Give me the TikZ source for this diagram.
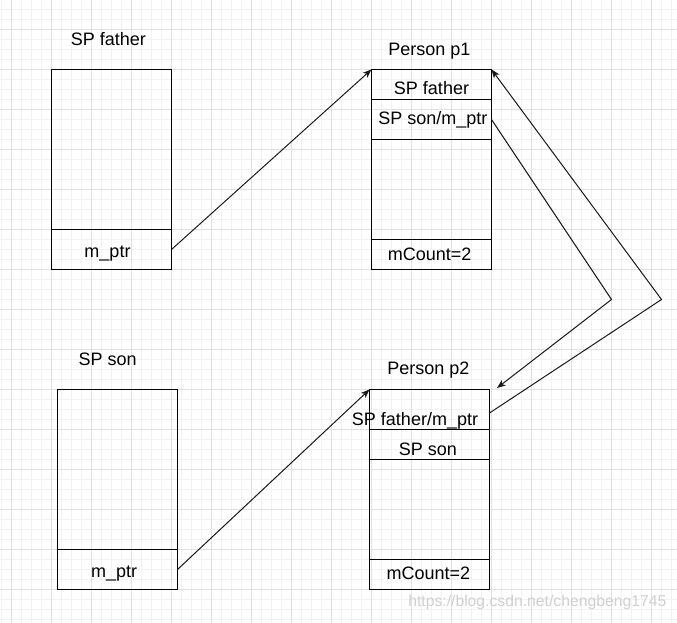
\documentclass[tikz,border=0pt]{standalone}
\usepackage{fontspec}
\setmainfont{Liberation Sans}
\usetikzlibrary{arrows.meta,calc}
\definecolor{gridmajor}{RGB}{224,224,224}
\definecolor{gridminor}{RGB}{242,242,242}
\definecolor{wmark}{RGB}{208,208,208}
\tikzset{
  cell/.style={draw=black,line width=0.8pt,rectangle,inner sep=0pt,outer sep=0pt,minimum width=90pt},
  lbl/.style={inner sep=0pt,anchor=base,font=\fontsize{13.5}{16}\selectfont},
  arr/.style={draw=black!90,line width=0.75pt,-{Stealth[length=6.5pt,width=5pt,inset=1.8pt]}},
  minorline/.style={draw=gridminor,line width=0.75pt},
  majorline/.style={draw=gridmajor,line width=0.75pt}
}
\begin{document}
\begin{tikzpicture}[x=0.75pt,y=-0.75pt]
\useasboundingbox (0,0) rectangle (677,623);
\fill[white] (0,0) rectangle (677,623);
% grid
\foreach \x in {1.5,11.5,...,671.5} \draw[minorline] (\x,0) -- (\x,623);
\foreach \y in {9.5,19.5,...,619.5} \draw[minorline] (0,\y) -- (677,\y);
\foreach \x in {11.5,51.5,...,651.5} \draw[majorline] (\x,0) -- (\x,623);
\foreach \y in {29.5,69.5,...,589.5} \draw[majorline] (0,\y) -- (677,\y);

% SP father (left top)
\node[cell,minimum height=120pt] (f1a) at (111.5,149.5) {};
\node[cell,minimum height=30pt] (f1b) at (111.5,249.5) {};
% Person p1
\node[cell,minimum height=22.5pt] (p1a) at (431.5,84.5) {};
\node[cell,minimum height=30pt] (p1b) at (431.5,119.5) {};
\node[cell,minimum height=75pt] (p1c) at (431.5,189.5) {};
\node[cell,minimum height=22.5pt] (p1d) at (431.5,254.5) {};
% SP son (left bottom)
\node[cell,minimum height=120pt] (s2a) at (117.5,469.5) {};
\node[cell,minimum height=30pt] (s2b) at (117.5,569.5) {};
% Person p2
\node[cell,minimum height=30pt] (p2a) at (429.5,409.5) {};
\node[cell,minimum height=22.5pt] (p2b) at (429.5,444.5) {};
\node[cell,minimum height=75pt] (p2c) at (429.5,509.5) {};
\node[cell,minimum height=22.5pt] (p2d) at (429.5,574.5) {};

% texts
\node[lbl] (tf) at (108.3,45.5) {SP father};
\node[lbl] (tp1) at (429.5,55.3) {Person p1};
\node[lbl] (tp1a) at (431.5,94.3) {SP father};
\node[lbl] (tp1b) at (432.8,125) {SP son/m\_ptr};
\node[lbl] (tp1d) at (429.7,260.7) {mCount=2};
\node[lbl] (tf1b) at (107.5,257.3) {m\_ptr};
\node[lbl] (ts) at (107.7,365) {SP son};
\node[lbl] (tp2) at (428.3,374) {Person p2};
\node[lbl] (tp2a) at (415,425) {SP father/m\_ptr};
\node[lbl] (tp2b) at (428,455) {SP son};
\node[lbl] (ts2b) at (114.2,577.3) {m\_ptr};
\node[lbl] (tp2d) at (428.3,579.3) {mCount=2};

% watermark
\node[inner sep=0pt,anchor=base west,text=wmark,font=\fontsize{11.8}{14}\selectfont] (wm) at (408,606.5) {https://blog.csdn.net/chengbeng1745};

% connectors
\coordinate (bendA) at (611.5,299.5);
\coordinate (tipA) at (497,388);
\coordinate (bendB) at (661.5,299.5);
\draw[arr] (f1b.east) -- (p1a.north west);
\draw[arr] (s2b.east) -- (p2a.north west);
\draw[arr] (p1b.east) -- (bendA) -- (tipA);
\draw[arr] ($(p2a.east)+(0,3.5)$) -- (bendB) -- (p1a.north east);
\end{tikzpicture}
\end{document}
